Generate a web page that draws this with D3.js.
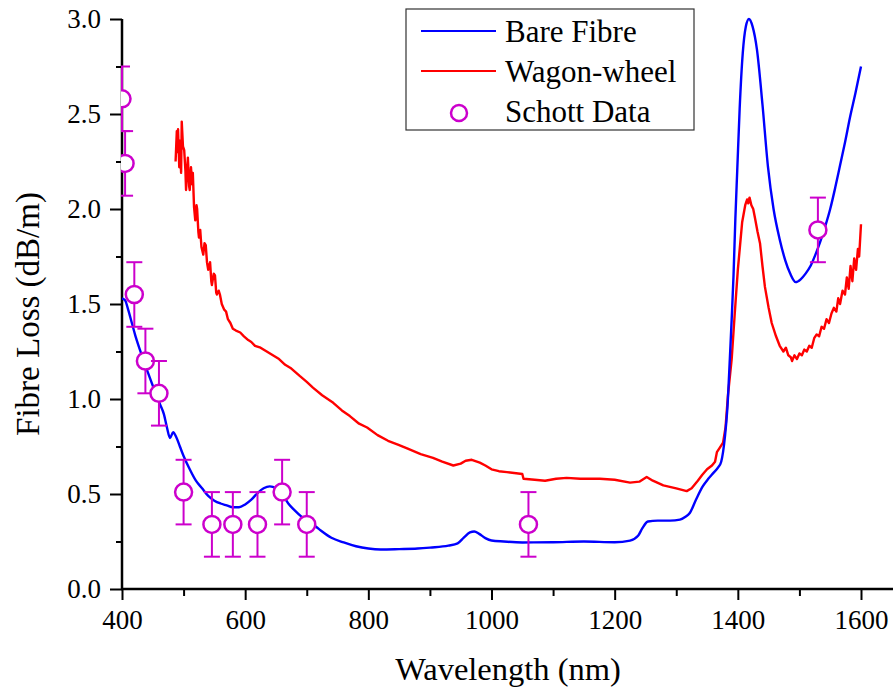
<!DOCTYPE html>
<html>
<head>
<meta charset="utf-8">
<script src="https://cdn.jsdelivr.net/npm/d3@7"></script>
<style>
  body { margin: 0; background: #fff; }
  svg text { font-family: "Liberation Serif", "Times New Roman", serif; fill: #000; }
</style>
</head>
<body>
<div id="chart"></div>
<script>
// Bare fibre loss curve [wavelength nm, loss dB/m]
var bareFibre = [
  [400,1.53],[405,1.52],[410,1.47],[416,1.40],[422,1.33],[429,1.26],[435,1.20],[442,1.14],
  [450,1.07],[456,1.02],[462,0.97],[468,0.92],[473,0.85],[478,0.795],[483,0.825],[488,0.80],
  [494,0.75],[500,0.70],[510,0.63],[520,0.57],[530,0.53],[540,0.49],[550,0.465],[560,0.45],
  [570,0.44],[580,0.43],[590,0.43],[600,0.445],[610,0.47],[620,0.505],[630,0.53],[640,0.54],
  [650,0.53],[660,0.50],[670,0.45],[680,0.415],[690,0.385],[700,0.365],[710,0.34],[720,0.315],
  [740,0.27],[760,0.245],[780,0.225],[800,0.213],[820,0.208],[850,0.21],[880,0.213],[900,0.218],
  [930,0.228],[945,0.24],[955,0.27],[965,0.298],[972,0.303],[980,0.29],[990,0.268],[1000,0.255],
  [1020,0.25],[1050,0.245],[1100,0.246],[1150,0.25],[1200,0.246],[1225,0.255],[1238,0.28],
  [1245,0.32],[1254,0.355],[1270,0.36],[1290,0.36],[1306,0.365],[1315,0.38],[1322,0.40],
  [1332,0.47],[1343,0.54],[1352,0.58],[1360,0.61],[1368,0.64],[1373,0.67],[1379,0.80],
  [1383,0.95],[1387,1.21],[1390,1.42],[1393,1.65],[1396,1.95],[1399,2.2],[1403,2.53],
  [1408,2.82],[1413,2.96],[1418,3.0],[1424,2.96],[1431,2.84],[1440,2.55],[1449,2.22],
  [1458,2.0],[1468,1.84],[1477,1.73],[1485,1.66],[1494,1.615],[1502,1.63],[1510,1.66],
  [1518,1.70],[1526,1.76],[1534,1.83],[1542,1.91],[1550,2.0],[1558,2.11],[1566,2.23],
  [1574,2.35],[1582,2.48],[1591,2.61],[1600,2.75]
];

// Wagon-wheel fibre loss curve (noisy measurement)
var wagonWheel = [
  [487,2.25],[489,2.41],[490,2.30],[491,2.42],[493,2.22],[494,2.36],[496,2.19],[497,2.46],
  [499,2.33],[501,2.31],[503,2.20],[504,2.10],[506,2.22],[507,2.27],[509,2.12],[510,2.10],
  [512,2.22],[514,2.13],[515,2.19],[517,2.01],[519,1.94],[521,2.02],[522,2.00],[524,1.88],
  [525,1.85],[527,1.89],[529,1.80],[532,1.76],[534,1.82],[536,1.81],[538,1.72],[540,1.68],
  [543,1.72],[545,1.62],[546,1.60],[549,1.66],[551,1.65],[553,1.56],[554,1.55],[557,1.57],
  [559,1.55],[562,1.50],[566,1.47],[569,1.46],[572,1.42],[576,1.40],[580,1.37],[585,1.36],
  [592,1.35],[598,1.33],[605,1.31],[610,1.30],[616,1.28],[625,1.27],[635,1.25],[645,1.23],
  [655,1.21],[665,1.18],[675,1.16],[689,1.12],[700,1.09],[710,1.06],[725,1.02],[743,0.98],
  [757,0.94],[770,0.91],[785,0.87],[798,0.85],[815,0.81],[832,0.78],[848,0.76],[863,0.74],
  [885,0.71],[905,0.69],[920,0.67],[938,0.65],[950,0.66],[958,0.675],[968,0.68],[981,0.665],
  [990,0.65],[1000,0.63],[1012,0.62],[1025,0.615],[1050,0.605],[1052,0.58],[1070,0.575],
  [1087,0.57],[1105,0.58],[1122,0.585],[1144,0.58],[1176,0.58],[1200,0.575],[1225,0.56],
  [1240,0.565],[1252,0.59],[1262,0.57],[1279,0.545],[1300,0.53],[1317,0.515],[1325,0.53],
  [1335,0.57],[1342,0.60],[1350,0.63],[1358,0.65],[1363,0.67],[1366,0.72],[1370,0.74],
  [1376,0.77],[1380,0.85],[1384,1.02],[1390,1.21],[1395,1.45],[1400,1.68],[1407,1.93],
  [1412,2.02],[1415,2.05],[1417,2.03],[1419,2.06],[1422,2.02],[1425,2.0],[1428,1.95],
  [1432,1.88],[1436,1.82],[1440,1.70],[1444,1.59],[1450,1.48],[1455,1.40],[1462,1.33],
  [1468,1.28],[1474,1.25],[1478,1.27],[1482,1.23],[1486,1.22],[1488,1.20],[1492,1.23],
  [1496,1.21],[1500,1.24],[1504,1.23],[1508,1.26],[1512,1.25],[1516,1.28],[1520,1.27],
  [1524,1.32],[1528,1.34],[1532,1.33],[1536,1.38],[1540,1.37],[1544,1.42],[1548,1.40],
  [1552,1.45],[1556,1.48],[1560,1.46],[1563,1.53],[1566,1.50],[1570,1.57],[1574,1.55],
  [1577,1.64],[1580,1.58],[1583,1.70],[1586,1.62],[1589,1.74],[1592,1.68],[1595,1.79],
  [1597,1.75],[1600,1.92]
];

// Schott data points with error bars
var schottWl   = [400, 405, 420, 438, 460, 500, 546, 580, 620, 660, 700, 1060, 1530];
var schottLoss = [2.58, 2.24, 1.55, 1.20, 1.03, 0.51, 0.34, 0.34, 0.34, 0.51, 0.34, 0.34, 1.89];
var schottErr  = 0.17;

var xTicks = [400, 600, 800, 1000, 1200, 1400, 1600];
var yTicks = [0.0, 0.5, 1.0, 1.5, 2.0, 2.5, 3.0];

var W = 893, H = 691;
var serif = '"Liberation Serif", "Times New Roman", serif';
var svg = d3.select("#chart").append("svg")
  .attr("width", W).attr("height", H);

var x = d3.scaleLinear().domain([400, 1600]).range([122, 861]);
var y = d3.scaleLinear().domain([0, 3]).range([589, 19]);

// clip for data
svg.append("clipPath").attr("id", "plotClip")
  .append("rect").attr("x", 121).attr("y", 0).attr("width", W - 121).attr("height", 589);

// x axis: minor ticks then major ticks
var xMinor = d3.range(500, 1700, 200);
svg.append("g")
  .attr("transform", "translate(0,589)")
  .call(d3.axisBottom(x).tickValues(xMinor).tickSize(7).tickFormat(""))
  .call(function (g) { g.select(".domain").remove(); })
  .selectAll("line").attr("stroke-width", 2);

var xAxis = svg.append("g")
  .attr("transform", "translate(0,589)")
  .call(d3.axisBottom(x).tickValues(xTicks).tickSize(11).tickPadding(10).tickFormat(d3.format("d")));
xAxis.select(".domain").remove();
xAxis.selectAll("line").attr("stroke-width", 2);
xAxis.selectAll("text").style("font-family", serif).style("font-size", "27px");

svg.append("line")
  .attr("x1", 121).attr("x2", 893).attr("y1", 589).attr("y2", 589)
  .attr("stroke", "#000").attr("stroke-width", 2.5);

// y axis
var yMinor = d3.range(0.25, 3, 0.5);
svg.append("g")
  .attr("transform", "translate(122,0)")
  .call(d3.axisLeft(y).tickValues(yMinor).tickSize(6).tickFormat(""))
  .call(function (g) { g.select(".domain").remove(); })
  .selectAll("line").attr("stroke-width", 2);

var yAxis = svg.append("g")
  .attr("transform", "translate(122,0)")
  .call(d3.axisLeft(y).tickValues(yTicks).tickSize(12).tickPadding(9).tickFormat(d3.format(".1f")));
yAxis.select(".domain").remove();
yAxis.selectAll("line").attr("stroke-width", 2);
yAxis.selectAll("text").style("font-family", serif).style("font-size", "27px");

svg.append("line")
  .attr("x1", 122).attr("x2", 122).attr("y1", 19).attr("y2", 590)
  .attr("stroke", "#000").attr("stroke-width", 2.5);

// axis titles
svg.append("text")
  .attr("x", 508).attr("y", 680)
  .attr("text-anchor", "middle")
  .style("font-size", "32.5px")
  .text("Wavelength (nm)");

svg.append("text")
  .attr("transform", "translate(39,314) rotate(-90)")
  .attr("text-anchor", "middle")
  .style("font-size", "33px")
  .text("Fibre Loss (dB/m)");

// data layer
var plot = svg.append("g").attr("clip-path", "url(#plotClip)");

var line = d3.line()
  .x(function (d) { return x(d[0]); })
  .y(function (d) { return y(d[1]); });

plot.append("path")
  .datum(wagonWheel)
  .attr("d", line)
  .attr("fill", "none")
  .attr("stroke", "#ff0000")
  .attr("stroke-width", 2.4)
  .attr("stroke-linejoin", "round");

plot.append("path")
  .datum(bareFibre)
  .attr("d", d3.line().curve(d3.curveMonotoneX)
    .x(function (d) { return x(d[0]); })
    .y(function (d) { return y(d[1]); }))
  .attr("fill", "none")
  .attr("stroke", "#0000ff")
  .attr("stroke-width", 2.4);

var schott = schottWl.map(function (w, i) { return { w: w, v: schottLoss[i] }; });
var magenta = "#cc00cc";

var pts = plot.selectAll(".schott").data(schott).enter().append("g").attr("class", "schott");
pts.append("line")
  .attr("x1", function (d) { return x(d.w); })
  .attr("x2", function (d) { return x(d.w); })
  .attr("y1", function (d) { return y(d.v - schottErr); })
  .attr("y2", function (d) { return y(d.v + schottErr); })
  .attr("stroke", magenta).attr("stroke-width", 2);
[1, -1].forEach(function (s) {
  pts.append("line")
    .attr("x1", function (d) { return x(d.w) - 8; })
    .attr("x2", function (d) { return x(d.w) + 8; })
    .attr("y1", function (d) { return y(d.v + s * schottErr); })
    .attr("y2", function (d) { return y(d.v + s * schottErr); })
    .attr("stroke", magenta).attr("stroke-width", 2);
});
pts.append("circle")
  .attr("cx", function (d) { return x(d.w); })
  .attr("cy", function (d) { return y(d.v); })
  .attr("r", 8.5)
  .attr("fill", "#fff")
  .attr("stroke", magenta)
  .attr("stroke-width", 2.5);

// legend
var legend = svg.append("g");
legend.append("rect")
  .attr("x", 406).attr("y", 9).attr("width", 288).attr("height", 121)
  .attr("fill", "#fff").attr("stroke", "#333").attr("stroke-width", 1.2);

var legendItems = [
  { label: "Bare Fibre", color: "#0000ff", type: "line" },
  { label: "Wagon-wheel", color: "#ff0000", type: "line" },
  { label: "Schott Data", color: magenta, type: "circle" }
];
legendItems.forEach(function (d, i) {
  var cy = 31 + i * 40;
  if (d.type === "line") {
    legend.append("line")
      .attr("x1", 421).attr("x2", 496).attr("y1", cy).attr("y2", cy)
      .attr("stroke", d.color).attr("stroke-width", 2.2);
  } else {
    legend.append("circle")
      .attr("cx", 459).attr("cy", cy + 2).attr("r", 8)
      .attr("fill", "#fff").attr("stroke", d.color).attr("stroke-width", 2.5);
  }
  legend.append("text")
    .attr("x", 505).attr("y", cy + 11)
    .style("font-size", "31px")
    .text(d.label);
});
</script>
</body>
</html>
